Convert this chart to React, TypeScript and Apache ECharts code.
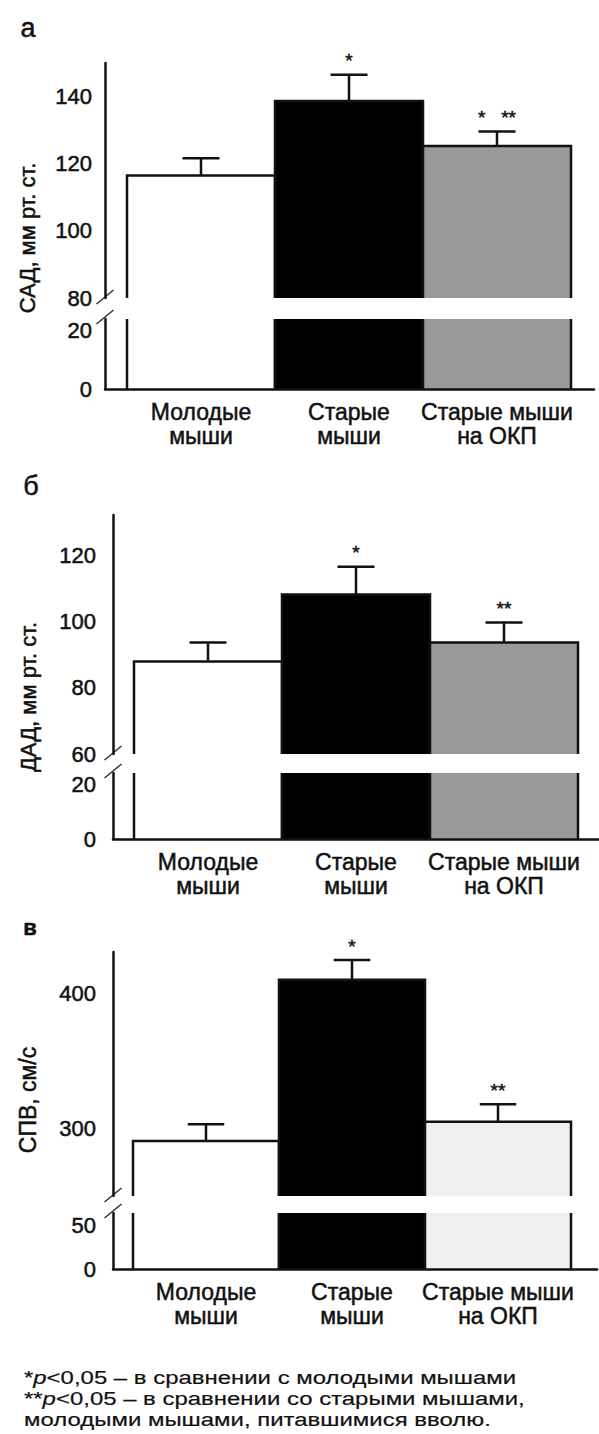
import React, { useEffect, useRef } from 'react';
import * as echarts from 'echarts';

const FONT = '"Liberation Sans", Arial, Helvetica, sans-serif';
const INK = '#111111';
// heavier strokes for axis-label texts (axis label style)
const HEAVY = { textBorderColor: INK, textBorderWidth: 0.5 };
// heavier strokes for zrender text elements (graphic / custom)
const HEAVY_EL = { stroke: INK, lineWidth: 0.5 };
const LIGHT_EL = { stroke: INK, lineWidth: 0.2 };

// Categories (x axis)
const categoryLabels = ['Молодые\nмыши', 'Старые\nмыши', 'Старые мыши\nна ОКП'];

// Panel а — САД, мм рт. ст.
const sadMeans = [116.5, 138.7, 125.3];
const sadSem = [5.1, 7.8, 4.3];
const sadMarks = ['', '*', '*   **'];
const sadUpperTicks = [80, 100, 120, 140];
const sadLowerTicks = [0, 20];

// Panel б — ДАД, мм рт. ст.
const dadMeans = [88.0, 108.3, 93.8];
const dadSem = [5.8, 8.4, 6.0];
const dadMarks = ['', '*', '**'];
const dadUpperTicks = [60, 80, 100, 120];
const dadLowerTicks = [0, 20];

// Panel в — СПВ, см/с
const spvMeans = [290.8, 410.5, 305.0];
const spvSem = [12.5, 14.5, 13.0];
const spvMarks = ['', '*', '**'];
const spvUpperTicks = [300, 400];
const spvLowerTicks = [0, 50];

const footnoteLines = [
  '*{i|p}<0,05 – в сравнении с молодыми мышами',
  '**{i|p}<0,05 – в сравнении со старыми мышами,',
  'молодыми мышами, питавшимися вволю.',
];

type Seg = { top: number; bottom: number; min: number; max: number; ticks: number[] };
type Panel = {
  means: number[];
  sem: number[];
  marks: string[];
  colors: string[];
  axisX: number;
  endX: number;
  barGap: number;
  barW: number;
  upper: Seg;
  lower: Seg;
  letter: string;
  letterX: number;
  letterY: number;
  letterSize: number;
  letterWeight: string;
  yTitle: string;
  yTitleX: number;
  yTitleY: number;
  yTitleSize: number;
  tickMargin: number;
  labelMargin: number;
};

const panels: Panel[] = [
  {
    means: sadMeans, sem: sadSem, marks: sadMarks,
    colors: ['#ffffff', '#000000', '#999999'],
    axisX: 105, endX: 594, barGap: 22, barW: 148,
    upper: { top: 63, bottom: 298, min: 80, max: 150, ticks: sadUpperTicks },
    lower: { top: 319, bottom: 389, min: 0, max: 24, ticks: sadLowerTicks },
    letter: 'а', letterX: 28, letterY: 28, letterSize: 27, letterWeight: 'normal',
    yTitle: 'САД, мм рт. ст.', yTitleX: 27, yTitleY: 238, yTitleSize: 22,
    tickMargin: 13, labelMargin: 11,
  },
  {
    means: dadMeans, sem: dadSem, marks: dadMarks,
    colors: ['#ffffff', '#000000', '#999999'],
    axisX: 113, endX: 599, barGap: 21, barW: 148,
    upper: { top: 515, bottom: 754, min: 60, max: 132.4, ticks: dadUpperTicks },
    lower: { top: 773, bottom: 839, min: 0, max: 24.4, ticks: dadLowerTicks },
    letter: 'б', letterX: 31, letterY: 486, letterSize: 27, letterWeight: 'normal',
    yTitle: 'ДАД, мм рт. ст.', yTitleX: 28, yTitleY: 697, yTitleSize: 22,
    tickMargin: 17, labelMargin: 11,
  },
  {
    means: spvMeans, sem: spvSem, marks: spvMarks,
    colors: ['#ffffff', '#000000', '#f0f0f0'],
    axisX: 113, endX: 597, barGap: 20, barW: 146,
    upper: { top: 952, bottom: 1196, min: 250, max: 431, ticks: spvUpperTicks },
    lower: { top: 1213, bottom: 1269, min: 0, max: 64, ticks: spvLowerTicks },
    letter: 'в', letterX: 30, letterY: 927, letterSize: 22, letterWeight: 'bold',
    yTitle: 'СПВ, см/с', yTitleX: 28, yTitleY: 1100, yTitleSize: 23,
    tickMargin: 17, labelMargin: 11,
  },
];

function buildOption() {
  const grid: any[] = [];
  const xAxis: any[] = [];
  const yAxis: any[] = [];
  const series: any[] = [];
  const graphic: any[] = [];
  const lineStyle = { color: INK, width: 2.5 };
  const strokeStyle = { stroke: INK, lineWidth: 2.5, fill: 'none' };

  panels.forEach((p) => {
    const unitMax = (p.endX - p.axisX) / p.barW;
    const off = p.barGap / p.barW;
    [p.upper, p.lower].forEach((seg, k) => {
      const isLower = k === 1;
      const gi = grid.length;
      grid.push({
        left: p.axisX,
        top: seg.top,
        width: p.endX - p.axisX,
        height: seg.bottom - seg.top,
        containLabel: false,
      });
      xAxis.push({
        type: 'value',
        gridIndex: gi,
        min: 0,
        max: unitMax,
        show: isLower,
        z: 10,
        axisLine: { show: true, onZero: false, lineStyle },
        axisTick: { show: false },
        splitLine: { show: false },
        axisLabel: {
          show: isLower,
          customValues: categoryLabels.map((_, i) => off + i + 0.5),
          formatter: (v: number) => {
            const i = Math.round(v - off - 0.5);
            return categoryLabels[i] ?? '';
          },
          fontSize: 23,
          lineHeight: 24,
          color: INK,
          fontFamily: FONT,
          margin: p.labelMargin,
          ...HEAVY,
        },
      });
      yAxis.push({
        type: 'value',
        gridIndex: gi,
        min: seg.min,
        max: seg.max,
        axisLine: { show: true, onZero: false, lineStyle },
        axisTick: { show: false },
        splitLine: { show: false },
        axisLabel: {
          customValues: seg.ticks,
          fontSize: 22,
          color: INK,
          fontFamily: FONT,
          margin: p.tickMargin,
          ...HEAVY,
        },
      });
      series.push({
        type: 'custom',
        xAxisIndex: gi,
        yAxisIndex: gi,
        clip: false,
        z: 2,
        data: p.means.map((m, i) => [i, m, p.sem[i]]),
        renderItem: (params: any, api: any) => {
          const i = api.value(0) as number;
          const m = api.value(1) as number;
          const e = api.value(2) as number;
          const cs = params.coordSys;
          const gTop = cs.y;
          const gBottom = cs.y + cs.height;
          const xl = api.coord([off + i, seg.min])[0];
          const xr = api.coord([off + i + 1, seg.min])[0];
          const yRaw = api.coord([off + i, m])[1];
          const clipped = yRaw < gTop;
          const yTop = clipped ? gTop : yRaw;
          const children: any[] = [
            {
              type: 'rect',
              shape: { x: xl, y: yTop, width: xr - xl, height: gBottom - yTop },
              style: { fill: p.colors[i] },
            },
          ];
          if (clipped) {
            children.push({ type: 'line', shape: { x1: xl, y1: yTop, x2: xl, y2: gBottom }, style: strokeStyle });
            children.push({ type: 'line', shape: { x1: xr, y1: yTop, x2: xr, y2: gBottom }, style: strokeStyle });
          } else {
            children.push({
              type: 'polyline',
              shape: { points: [[xl, gBottom], [xl, yTop], [xr, yTop], [xr, gBottom]] },
              style: { ...strokeStyle, lineJoin: 'miter' },
            });
          }
          if (!isLower && !clipped) {
            const xc = (xl + xr) / 2;
            const yErr = api.coord([off + i, m + e])[1];
            const half = (xr - xl) * 0.125;
            children.push({ type: 'line', shape: { x1: xc, y1: yTop, x2: xc, y2: yErr }, style: strokeStyle });
            children.push({ type: 'line', shape: { x1: xc - half, y1: yErr, x2: xc + half, y2: yErr }, style: strokeStyle });
            if (p.marks[i]) {
              children.push({
                type: 'text',
                x: xc,
                y: yErr - 14,
                style: {
                  text: p.marks[i],
                  align: 'center',
                  verticalAlign: 'middle',
                  fontSize: 19,
                  fontFamily: FONT,
                  fill: INK,
                  ...HEAVY_EL,
                },
              });
            }
          }
          return { type: 'group', children };
        },
      });
    });

    // panel letter
    graphic.push({
      type: 'text',
      x: p.letterX,
      y: p.letterY,
      style: {
        text: p.letter,
        align: 'center',
        verticalAlign: 'middle',
        fontSize: p.letterSize,
        fontWeight: p.letterWeight,
        fontFamily: FONT,
        fill: INK,
        ...HEAVY_EL,
      },
    });
    // rotated y-axis title
    graphic.push({
      type: 'text',
      x: p.yTitleX,
      y: p.yTitleY,
      rotation: Math.PI / 2,
      style: {
        text: p.yTitle,
        align: 'center',
        verticalAlign: 'middle',
        fontSize: p.yTitleSize,
        fontFamily: FONT,
        fill: INK,
        ...HEAVY_EL,
      },
    });
    // axis break marks
    [p.upper.bottom - 1, p.lower.top - 2].forEach((cy) => {
      graphic.push({
        type: 'line',
        shape: { x1: p.axisX - 8.5, y1: cy + 7, x2: p.axisX + 8.5, y2: cy - 7 },
        style: { stroke: '#333', lineWidth: 1.5 },
      });
    });
  });

  graphic.push({
    type: 'text',
    x: 24,
    y: 1367,
    scaleX: 1.26,
    scaleY: 1,
    style: {
      text: footnoteLines.join('\n'),
      fontSize: 19,
      lineHeight: 21,
      fontFamily: FONT,
      fill: INK,
      verticalAlign: 'top',
      ...LIGHT_EL,
      rich: {
        i: { fontStyle: 'italic', fontSize: 19, fontFamily: FONT, fill: INK, lineHeight: 21, ...LIGHT_EL },
      },
    },
  });

  return {
    animation: false,
    backgroundColor: '#ffffff',
    grid,
    xAxis,
    yAxis,
    series,
    graphic,
  };
}

export default function App() {
  const ref = useRef<HTMLDivElement>(null);
  useEffect(() => {
    if (!ref.current) return;
    const chart = echarts.init(ref.current, undefined, { renderer: 'svg' });
    chart.setOption(buildOption() as any);
    return () => chart.dispose();
  }, []);
  return (
    <div
      ref={ref}
      style={{ position: 'absolute', left: 0, top: 0, width: 599, height: 1434, background: '#fff' }}
    />
  );
}
